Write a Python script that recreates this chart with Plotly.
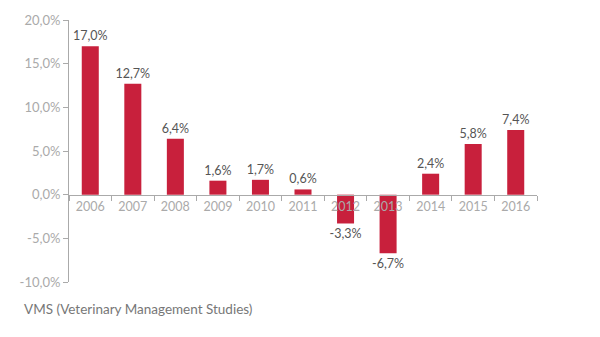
import plotly.graph_objects as go

years = ["2006", "2007", "2008", "2009", "2010", "2011", "2012", "2013", "2014", "2015", "2016"]
growth = [17.0, 12.7, 6.4, 1.6, 1.7, 0.6, -3.3, -6.7, 2.4, 5.8, 7.4]
y_ticks = [-10, -5, 0, 5, 10, 15, 20]
source = "VMS (Veterinary Management Studies)"


def fmt(v):
    return f"{v:.1f}%".replace(".", ",")


FONT = "Lato"
fig = go.Figure(go.Bar(
    x=years, y=growth,
    marker=dict(color="#C8203C", line=dict(width=0)),
    text=[fmt(v) for v in growth], textposition="outside",
    textfont=dict(family=FONT, size=12.5, color="#555555"),
    constraintext="none",
    cliponaxis=False,
))
fig.update_layout(
    width=600, height=337,
    margin=dict(l=69, r=63, t=16, b=55),
    paper_bgcolor="white", plot_bgcolor="white",
    bargap=0.6,
    showlegend=False,
    font=dict(family=FONT),
    xaxis=dict(
        type="category", range=[-0.5, 10.5],
        anchor="free", position=1/3,
        showline=True, linecolor="#aaaaaa", linewidth=1,
        ticks="outside", tickson="boundaries", ticklen=5, tickcolor="#aaaaaa",
        tickfont=dict(family=FONT, size=12.5, color="#aaaaaa"),
        showgrid=False, zeroline=False,
    ),
    yaxis=dict(
        range=[-10, 20], tickvals=y_ticks,
        ticktext=[fmt(v) for v in y_ticks],
        showline=True, linecolor="#aaaaaa", linewidth=1,
        ticks="outside", ticklen=5, tickcolor="#aaaaaa",
        tickfont=dict(family=FONT, size=13, color="#aaaaaa"),
        showgrid=False, zeroline=False,
    ),
    annotations=[dict(
        text=source, xref="paper", yref="paper",
        x=-69/468 + 22/468, xanchor="left",
        y=0, yshift=-27, yanchor="middle",
        showarrow=False,
        font=dict(family=FONT, size=13.5, color="#777777"),
    )],
)
fig.write_html("out.html")
